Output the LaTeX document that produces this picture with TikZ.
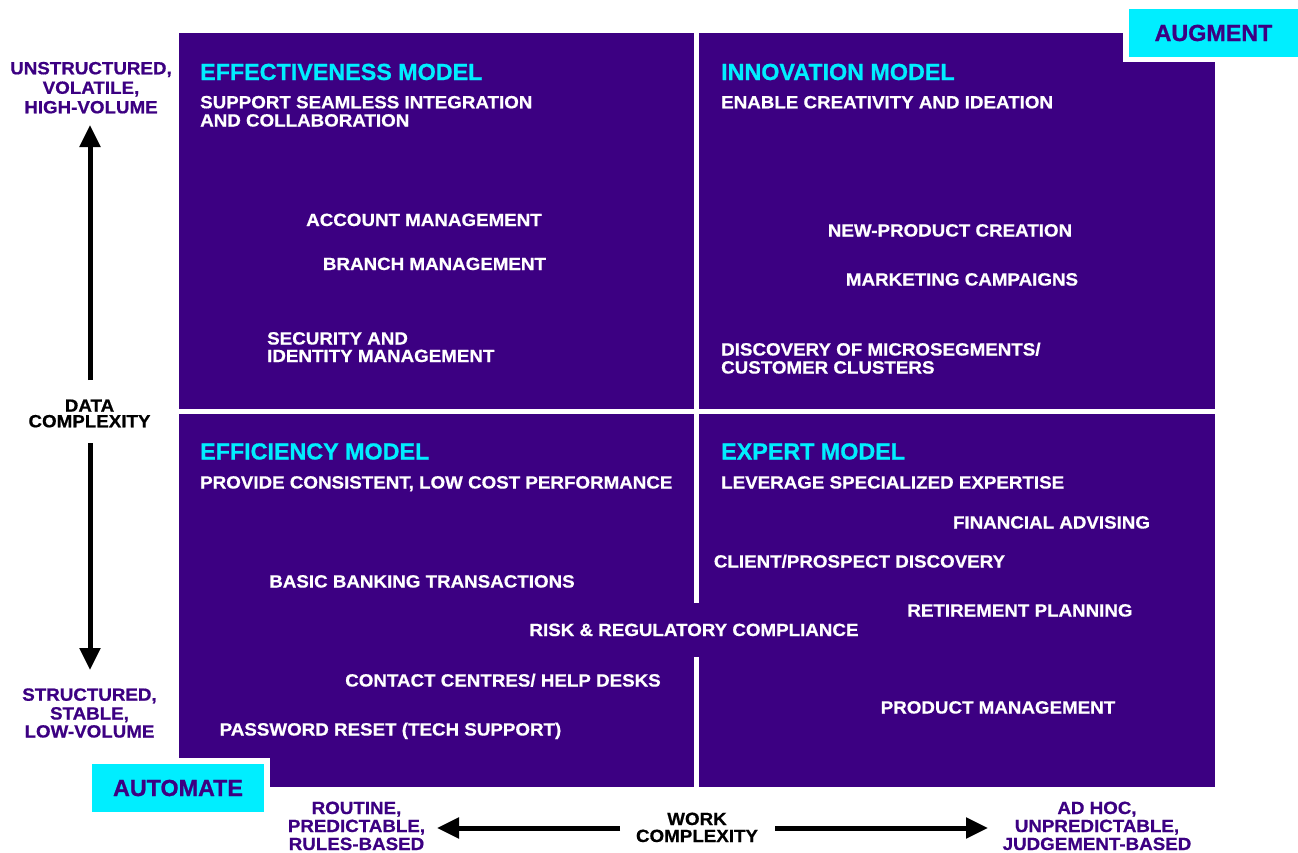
\documentclass[tikz,border=0pt]{standalone}
\usepackage{fontspec}
\setmainfont{Liberation Sans}
\newfontfamily\smallfont[FakeStretch=1.06, BoldFeatures={FakeBold=0.7}]{Liberation Sans}
\newfontfamily\headfont[BoldFeatures={FakeBold=0.8}]{Liberation Sans}
\usetikzlibrary{arrows.meta}
\definecolor{qpurple}{RGB}{60,0,130}
\definecolor{qcyan}{RGB}{0,238,255}
\begin{document}
\begin{tikzpicture}[x=1pt,y=-1pt,
  quad/.style={fill=qpurple},
  head/.style={font=\headfont\fontsize{23.3}{24}\selectfont\bfseries, text=qcyan, inner sep=0pt, anchor=base west},
  sub/.style={font=\smallfont\fontsize{17.7}{18}\selectfont\bfseries, text=white, inner sep=0pt, anchor=base west},
  item/.style={sub, anchor=base},
  axend/.style={font=\smallfont\fontsize{17.7}{18}\selectfont\bfseries, text=qpurple, inner sep=0pt, anchor=base},
  axname/.style={font=\smallfont\fontsize{17.7}{18}\selectfont\bfseries, text=black, inner sep=0pt, anchor=base},
  tagbox/.style={fill=qcyan, text=qpurple, font=\headfont\fontsize{23.3}{24}\selectfont\bfseries, inner sep=0pt},
  mask/.style={fill=white},
  axarrow/.style={line width=5pt, -{Triangle[width=20pt,length=22pt]}}
]
\useasboundingbox (0,0) rectangle (1298,852);
\fill[white] (0,0) rectangle (1298,852);

% quadrants
\fill[quad] (179,33) rectangle (694,409);
\fill[quad] (699,33) rectangle (1215,409);
\fill[quad] (179,414) rectangle (694,787);
\fill[quad] (699,414) rectangle (1215,787);
\fill[quad] (693,603) rectangle (700,657);

% corner tags
\fill[mask] (1123,0) rectangle (1298,62);
\node[tagbox, minimum width=169pt, minimum height=48pt] (augment) at (1213.5,33) {AUGMENT};
\fill[mask] (86,758) rectangle (270,818);
\node[tagbox, minimum width=172pt, minimum height=48pt] (automate) at (178,788) {AUTOMATE};

% headings
\node[head] (effh) at (200,80) {EFFECTIVENESS MODEL};
\node[sub] (effs1) at (200,108.3) {SUPPORT SEAMLESS INTEGRATION};
\node[sub] (effs2) at (200,126.5) {AND COLLABORATION};
\node[head] (innh) at (721,80) {INNOVATION MODEL};
\node[sub] (inns) at (721,108.3) {ENABLE CREATIVITY AND IDEATION};
\node[head] (fich) at (200,459.5) {EFFICIENCY MODEL};
\node[sub] (fics) at (200,488.5) {PROVIDE CONSISTENT, LOW COST PERFORMANCE};
\node[head] (exph) at (721,459.5) {EXPERT MODEL};
\node[sub] (exps) at (721,488.5) {LEVERAGE SPECIALIZED EXPERTISE};

% items top-left
\node[item] (acc) at (424,226) {ACCOUNT MANAGEMENT};
\node[item] (bra) at (434.5,270) {BRANCH MANAGEMENT};
\node[sub] (sec1) at (267,344.5) {SECURITY AND};
\node[sub] (sec2) at (267,362) {IDENTITY MANAGEMENT};
% items top-right
\node[item] (npc) at (950,236.5) {NEW-PRODUCT CREATION};
\node[item] (mkt) at (962,285.5) {MARKETING CAMPAIGNS};
\node[sub] (dis1) at (721,355.5) {DISCOVERY OF MICROSEGMENTS/};
\node[sub] (dis2) at (721,373.5) {CUSTOMER CLUSTERS};
% items bottom-left
\node[item] (bbt) at (422,587.5) {BASIC BANKING TRANSACTIONS};
\node[item] (risk) at (694,636) {RISK \& REGULATORY COMPLIANCE};
\node[item] (ccd) at (503,686.5) {CONTACT CENTRES/ HELP DESKS};
\node[item] (pwd) at (390.5,735.5) {PASSWORD RESET (TECH SUPPORT)};
% items bottom-right
\node[item] (fin) at (1051.5,528.5) {FINANCIAL ADVISING};
\node[item] (cpd) at (859.5,567.5) {CLIENT/PROSPECT DISCOVERY};
\node[item] (ret) at (1020,616.5) {RETIREMENT PLANNING};
\node[item] (pm) at (998,713.5) {PRODUCT MANAGEMENT};

% vertical axis
\node[axend] (u1) at (91,74.3) {UNSTRUCTURED,};
\node[axend] (u2) at (91,93.8) {VOLATILE,};
\node[axend] (u3) at (91,113.3) {HIGH-VOLUME};
\node[axname] (dc1) at (89.5,411.7) {DATA};
\node[axname] (dc2) at (89.5,427.3) {COMPLEXITY};
\node[axend] (s1) at (89.5,700.7) {STRUCTURED,};
\node[axend] (s2) at (89.5,719.5) {STABLE,};
\node[axend] (s3) at (89.5,737.5) {LOW-VOLUME};
\coordinate (upStart) at (90,380);
\coordinate (upTip) at (90,125);
\coordinate (dnStart) at (90,443);
\coordinate (dnTip) at (90,670);
\draw[axarrow] (upStart) -- (upTip);
\draw[axarrow] (dnStart) -- (dnTip);

% horizontal axis
\node[axend] (r1) at (356.5,814) {ROUTINE,};
\node[axend] (r2) at (356.5,832) {PREDICTABLE,};
\node[axend] (r3) at (356.5,850) {RULES-BASED};
\node[axname] (wc1) at (697,825) {WORK};
\node[axname] (wc2) at (697,842) {COMPLEXITY};
\node[axend] (a1) at (1097,814) {AD HOC,};
\node[axend] (a2) at (1097,832) {UNPREDICTABLE,};
\node[axend] (a3) at (1097,850) {JUDGEMENT-BASED};
\coordinate (ltStart) at (620,828);
\coordinate (ltTip) at (437,828);
\coordinate (rtStart) at (775,828);
\coordinate (rtTip) at (988,828);
\draw[axarrow] (ltStart) -- (ltTip);
\draw[axarrow] (rtStart) -- (rtTip);
\end{tikzpicture}
\end{document}
